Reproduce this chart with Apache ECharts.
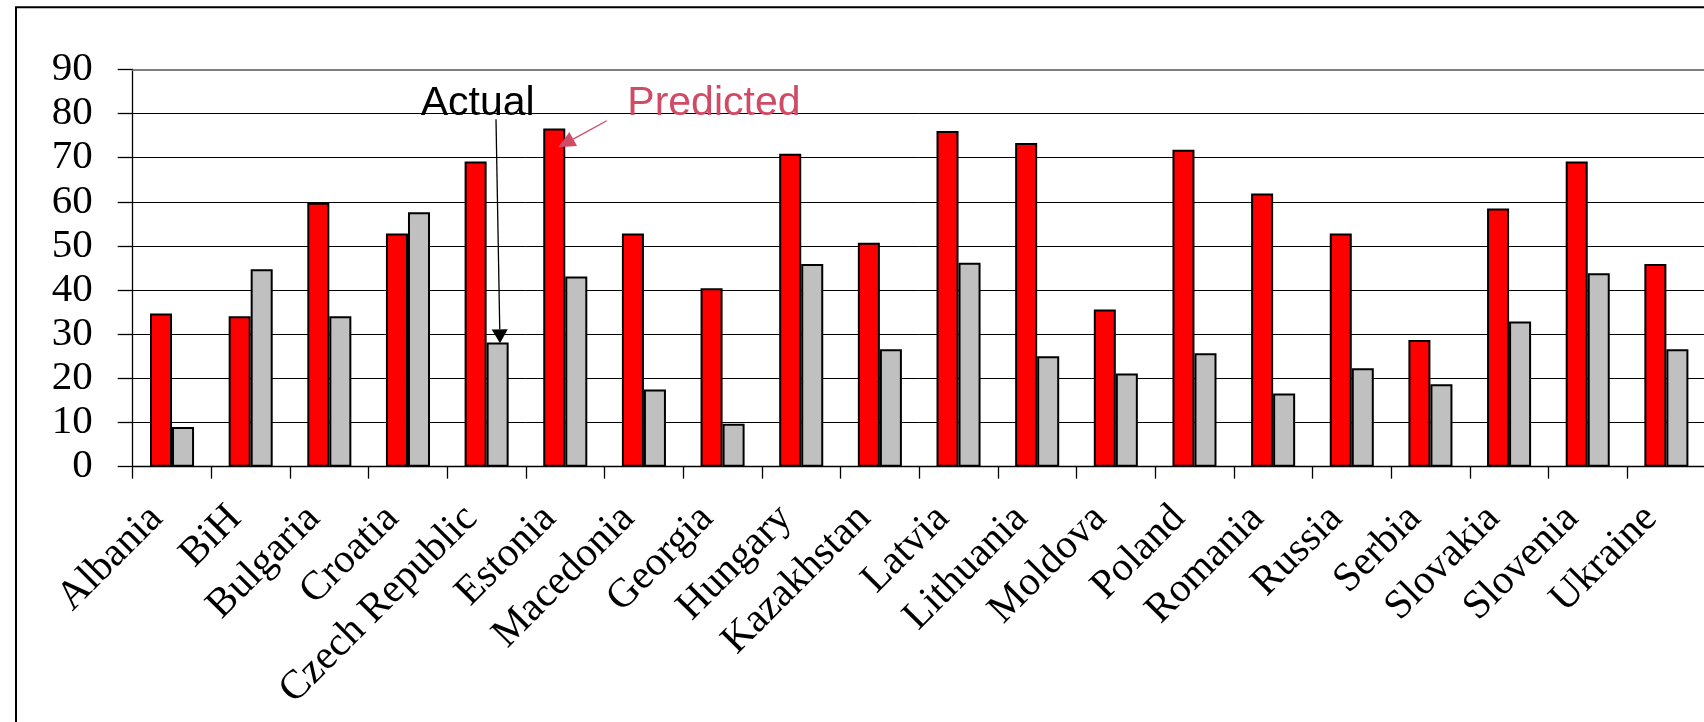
<!DOCTYPE html>
<html>
<head>
<meta charset="utf-8">
<script src="https://cdn.jsdelivr.net/npm/echarts@6/dist/echarts.min.js"></script>
<style>
  html, body { margin: 0; padding: 0; background: #fff; }
  #chart { width: 1704px; height: 722px; }
</style>
</head>
<body>
<div id="chart"></div>
<script>
// Countries along the category axis
const countries = ['Albania', 'BiH', 'Bulgaria', 'Croatia', 'Czech Republic', 'Estonia',
  'Macedonia', 'Georgia', 'Hungary', 'Kazakhstan', 'Latvia', 'Lithuania', 'Moldova',
  'Poland', 'Romania', 'Russia', 'Serbia', 'Slovakia', 'Slovenia', 'Ukraine'];

// Predicted values (red bars)
const predicted = [34.7, 34.1, 59.8, 52.8, 69.1, 76.6, 52.8, 40.4, 70.9, 50.7,
  76.0, 73.3, 35.6, 71.8, 61.9, 52.8, 28.7, 58.5, 69.1, 45.9];

// Actual values (grey bars)
const actual = [9.0, 44.7, 34.1, 57.6, 28.1, 43.1, 17.5, 9.7, 45.9, 26.6,
  46.2, 25.0, 21.1, 25.7, 16.6, 22.3, 18.7, 32.9, 43.8, 26.6];

// Value axis ticks
const yTicks = { min: 0, max: 90, step: 10 };

const SERIF = '"Liberation Serif", "Times New Roman", serif';
const SANS = '"Liberation Sans", Arial, sans-serif';
const PINK = '#D14B66';

const chart = echarts.init(document.getElementById('chart'), null, { renderer: 'canvas' });

// Arrow helper: shaft plus filled triangular head ending at (x2, y2)
function arrow(x1, y1, x2, y2, color, headLen, headHalf) {
  const dx = x2 - x1, dy = y2 - y1;
  const len = Math.sqrt(dx * dx + dy * dy);
  const ux = dx / len, uy = dy / len;
  const bx = x2 - ux * headLen, by = y2 - uy * headLen;
  const px = -uy * headHalf, py = ux * headHalf;
  return [
    { type: 'line', silent: true, z: 100,
      shape: { x1: x1, y1: y1, x2: bx, y2: by },
      style: { stroke: color, lineWidth: 1.3 } },
    { type: 'polygon', silent: true, z: 100,
      shape: { points: [[x2, y2], [bx + px, by + py], [bx - px, by - py]] },
      style: { fill: color } }
  ];
}

const option = {
  backgroundColor: '#fff',
  animation: false,
  grid: {
    left: 132.7, top: 69.3, width: 1573, height: 397.4,
    outerBoundsMode: 'none', containLabel: false
  },
  xAxis: [{
    type: 'category',
    data: countries,
    boundaryGap: true,
    axisLine: { show: true, lineStyle: { color: '#000', width: 1.3 } },
    axisTick: { show: true, inside: false, length: 12, interval: 0,
      lineStyle: { color: '#000', width: 1.3 } },
    axisLabel: {
      interval: 0, rotate: 45, margin: 30,
      padding: [0, 22, 0, 0],
      fontFamily: SERIF, fontSize: 41, color: '#000'
    },
    splitLine: { show: false }
  }, {
    // upper edge of the plot area
    type: 'category',
    position: 'top',
    data: countries,
    axisLine: { show: true, lineStyle: { color: '#808080', width: 2 } },
    axisTick: { show: false },
    axisLabel: { show: false },
    splitLine: { show: false }
  }],
  yAxis: {
    type: 'value',
    min: yTicks.min, max: yTicks.max, interval: yTicks.step,
    axisLine: { show: true, lineStyle: { color: '#000', width: 1.3 } },
    axisTick: { show: true, inside: false, length: 15,
      lineStyle: { color: '#000', width: 1.3 } },
    axisLabel: { margin: 40, fontFamily: SERIF, fontSize: 41, color: '#000' },
    splitLine: { show: true, lineStyle: { color: '#000', width: 1 } }
  },
  series: [{
    name: 'Predicted',
    type: 'bar',
    data: predicted,
    barGap: '0%',
    barCategoryGap: '44%',
    itemStyle: { color: '#FF0000', borderColor: '#000', borderWidth: 2 }
  }, {
    name: 'Actual',
    type: 'bar',
    data: actual,
    barGap: '0%',
    barCategoryGap: '44%',
    itemStyle: { color: '#C0C0C0', borderColor: '#000', borderWidth: 2 }
  }],
  graphic: [
    // outer chart frame
    { type: 'rect', silent: true, z: 0,
      shape: { x: 16, y: 7.3, width: 1760, height: 800 },
      style: { fill: 'none', stroke: '#000', lineWidth: 2 } },
    { type: 'text', silent: true, z: 100, x: 420.7, y: 124,
      style: { text: 'Actual', font: '41px ' + SANS, fill: '#000',
        textAlign: 'left', textVerticalAlign: 'bottom' } },
    { type: 'text', silent: true, z: 100, x: 627.3, y: 124,
      style: { text: 'Predicted', font: '41px ' + SANS, fill: PINK,
        textAlign: 'left', textVerticalAlign: 'bottom' } }
  ].concat(arrow(496, 119.3, 500, 343.3, '#000', 14, 8))
   .concat(arrow(606.7, 120.7, 558.3, 147.3, PINK, 17, 8))
};

chart.setOption(option);
</script>
</body>
</html>
